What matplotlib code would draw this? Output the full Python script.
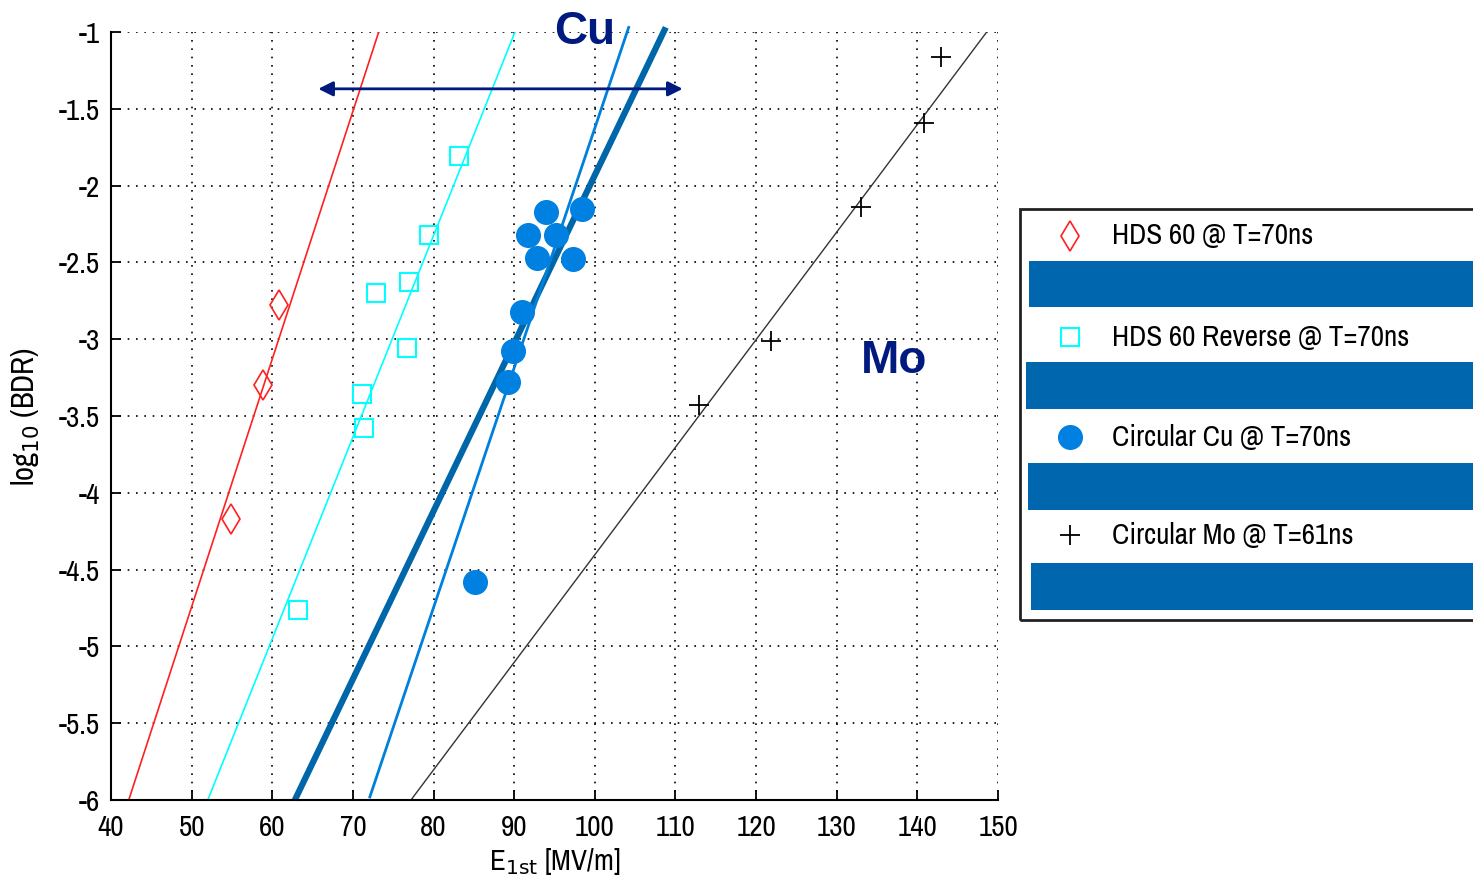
import matplotlib
matplotlib.use("Agg")
import matplotlib.pyplot as plt
from matplotlib.patches import Rectangle
from matplotlib import font_manager

# condensed font for ticks and legend, like the MATLAB screen font
names = set(f.name for f in font_manager.fontManager.ttflist)
narrow = 'Liberation Sans'
for cand in ['Archivo Narrow', 'Roboto Condensed', 'Fira Sans Condensed', 'IBM Plex Sans Condensed']:
    if cand in names:
        narrow = cand
        break

# HDS 60 @ T=70ns
hds_x = [60.8, 58.85, 54.9]
hds_y = [-2.78, -3.30, -4.17]
hds_fit_x = [42.2, 73.2]
hds_fit_y = [-6, -1]

# HDS 60 Reverse @ T=70ns
rev_x = [83.2, 79.4, 77.0, 72.9, 76.7, 71.1, 71.4, 63.2]
rev_y = [-1.81, -2.32, -2.63, -2.70, -3.06, -3.36, -3.58, -4.76]
rev_fit_x = [52.0, 90.1]
rev_fit_y = [-6, -1]

# Circular Cu @ T=70ns
cu_x = [93.9, 98.4, 91.7, 95.2, 92.8, 97.3, 91.0, 89.85, 89.2, 85.1]
cu_y = [-2.17, -2.15, -2.32, -2.32, -2.47, -2.48, -2.82, -3.08, -3.28, -4.58]
cu_fit1_x = [62.8, 108.8]
cu_fit1_y = [-6, -0.97]
cu_fit2_x = [72.1, 104.2]
cu_fit2_y = [-5.98, -0.97]

# Circular Mo @ T=61ns
mo_x = [142.9, 140.8, 133.0, 121.8, 112.9]
mo_y = [-1.16, -1.59, -2.14, -3.01, -3.43]
mo_fit_x = [77.2, 148.6]
mo_fit_y = [-6, -1]

arrow_x = [65.7, 110.9]
arrow_y = -1.37

labels = ['HDS 60 @ T=70ns', 'HDS 60 Reverse @ T=70ns',
          'Circular Cu @ T=70ns', 'Circular Mo @ T=61ns']

navy = '#001A80'
bar_blue = '#0066AD'
cu_blue = '#0080E0'

W, H = 1473, 892
fig = plt.figure(figsize=(W / 100, H / 100), dpi=100)
ax = fig.add_axes([111 / W, 1 - 800 / H, 887 / W, 768 / H])

ax.plot(hds_fit_x, hds_fit_y, color='#FF2020', lw=1.2)
ax.plot(rev_fit_x, rev_fit_y, color='#00FFFF', lw=1.2)
ax.plot(cu_fit1_x, cu_fit1_y, color='#0066AA', lw=4.5, clip_on=False, solid_capstyle='butt')
ax.plot(cu_fit2_x, cu_fit2_y, color='#0080DD', lw=2.0, clip_on=False)
ax.plot(mo_fit_x, mo_fit_y, color='#333333', lw=1.0)

mk = dict(linestyle='none')
ax.plot(hds_x, hds_y, marker='d', ms=15, mfc='none', mec='#FF2020', mew=1.2, **mk)
ax.plot(rev_x, rev_y, marker='s', ms=13, mfc='none', mec='#00FFFF', mew=1.5, **mk)
ax.plot(cu_x, cu_y, marker='o', ms=17, mfc=cu_blue, mec=cu_blue, **mk)
ax.plot(mo_x, mo_y, marker='+', ms=15, mec='black', mew=1.3, **mk)

ax.annotate('', xy=(arrow_x[0], arrow_y), xytext=(arrow_x[1], arrow_y),
            arrowprops=dict(arrowstyle='<|-|>', color=navy, lw=2, mutation_scale=22,
                            shrinkA=0, shrinkB=0))

ax.text(98.7, -1.0, 'Cu', color=navy, fontsize=33, fontweight='bold',
        ha='center', va='center', family='Liberation Sans')
ax.text(137.1, -3.14, 'Mo', color=navy, fontsize=33, fontweight='bold',
        ha='center', va='center', family='Liberation Sans')

ax.set_xlim(40, 150)
ax.set_ylim(-6, -1)
ax.set_xticks(range(40, 151, 10))
ax.set_yticks([-6, -5.5, -5, -4.5, -4, -3.5, -3, -2.5, -2, -1.5, -1])
ax.set_yticklabels(['-6', '-5.5', '-5', '-4.5', '-4', '-3.5', '-3', '-2.5', '-2', '-1.5', '-1'])
ax.grid(True, linestyle=(0, (1, 4)), color='black', lw=1.2)
ax.spines['top'].set_visible(False)
ax.spines['right'].set_visible(False)
ax.spines['left'].set_linewidth(1.5)
ax.spines['bottom'].set_linewidth(1.5)
ax.tick_params(direction='in', length=7, width=1.3, labelsize=21, pad=8)
ax.tick_params(axis='x', pad=10)
for lab in ax.get_xticklabels() + ax.get_yticklabels():
    lab.set_family(narrow)

plt.rcParams['mathtext.fontset'] = 'custom'
plt.rcParams['mathtext.rm'] = narrow
ax.set_xlabel(r'E$_{\mathrm{1st}}$ [MV/m]', fontsize=21, family=narrow, labelpad=4)
ax.set_ylabel(r'log$_{\mathrm{10}}$ (BDR)', fontsize=22, family=narrow, labelpad=12)

# legend panel, cut off at the right edge like the original
lx0, ly0, ly1 = 1020, 209, 620
fig.add_artist(Rectangle((lx0 / W, 1 - ly1 / H), (W + 20 - lx0) / W, (ly1 - ly0) / H,
                         transform=fig.transFigure, fill=False, ec='#222222', lw=2))
rows_y = [236, 337, 437, 535]
bars = [(1029, 261, 307), (1026, 362, 409), (1028, 463, 510), (1031, 563, 610)]
styles = [dict(marker='d', ms=15, mfc='none', mec='#FF2020', mew=1.2),
          dict(marker='s', ms=13, mfc='none', mec='#00FFFF', mew=1.5),
          dict(marker='o', ms=17, mfc=cu_blue, mec=cu_blue),
          dict(marker='+', ms=15, mec='black', mew=1.3)]
for yy, (bx, bt, bb), st, lab in zip(rows_y, bars, styles, labels):
    fig.add_artist(plt.Line2D([1070 / W], [1 - yy / H], transform=fig.transFigure,
                              linestyle='none', **st))
    fig.text(1112 / W, 1 - yy / H, lab, fontsize=21, family=narrow, va='center', ha='left')
    fig.add_artist(Rectangle((bx / W, 1 - bb / H), (W - bx) / W, (bb - bt) / H,
                             transform=fig.transFigure, color=bar_blue, lw=0))

fig.savefig('out.png', dpi=100)
